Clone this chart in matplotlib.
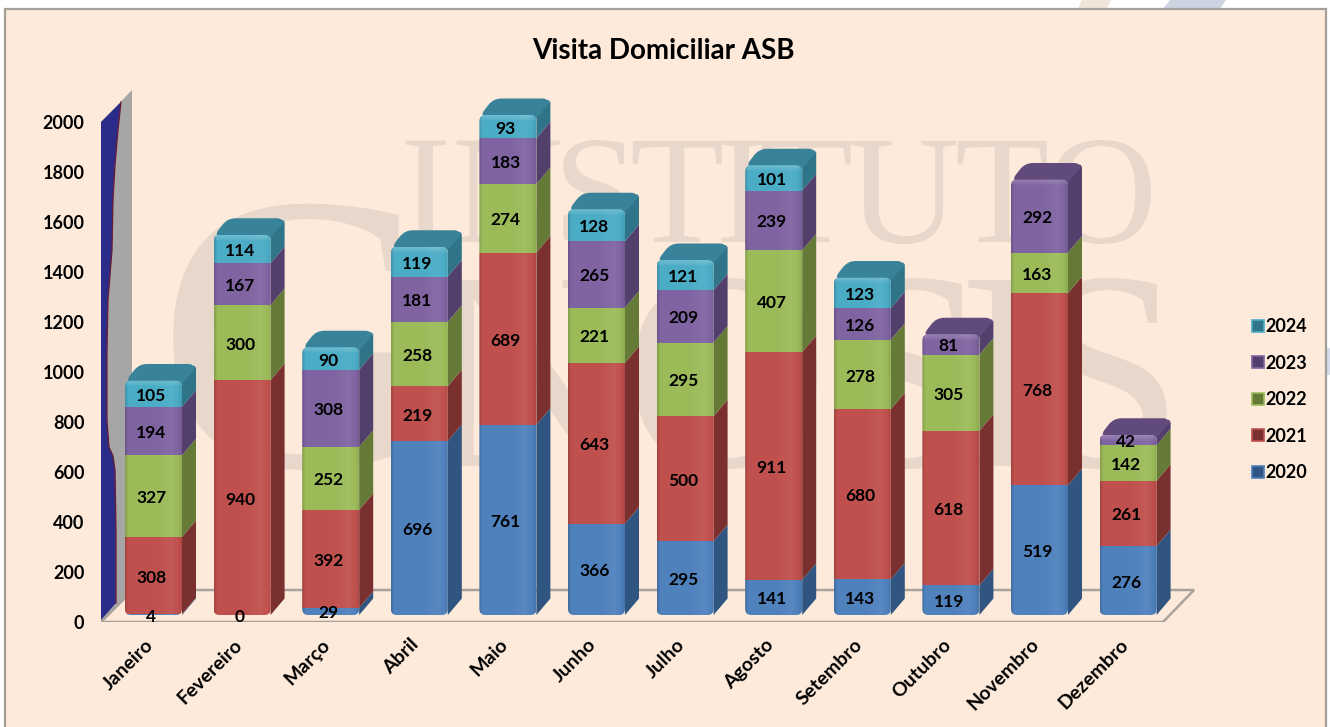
import numpy as np
import matplotlib
matplotlib.use("Agg")
import matplotlib.pyplot as plt
from matplotlib.patches import Polygon, Rectangle, PathPatch, Patch
from matplotlib.path import Path
from matplotlib.transforms import Affine2D, ScaledTranslation

plt.rcParams['font.family'] = ['Lato', 'DejaVu Sans']

months = ["Janeiro", "Fevereiro", "Março", "Abril", "Maio", "Junho", "Julho",
          "Agosto", "Setembro", "Outubro", "Novembro", "Dezembro"]
years = ["2020", "2021", "2022", "2023", "2024"]
values_2020 = [4, 0, 29, 696, 761, 366, 295, 141, 143, 119, 519, 276]
values_2021 = [308, 940, 392, 219, 689, 643, 500, 911, 680, 618, 768, 261]
values_2022 = [327, 300, 252, 258, 274, 221, 295, 407, 278, 305, 163, 142]
values_2023 = [194, 167, 308, 181, 183, 265, 209, 239, 126, 81, 292, 42]
values_2024 = [105, 114, 90, 119, 93, 128, 121, 101, 123, np.nan, np.nan, np.nan]
y_ticks = [0, 200, 400, 600, 800, 1000, 1200, 1400, 1600, 1800, 2000]

front_colors = ["#4F81BD", "#C0504D", "#9BBB59", "#8064A2", "#4BACC6"]
side_colors = ["#2F5580", "#7A302E", "#667A38", "#533F6B", "#2F7488"]
cap_colors = ["#3A6596", "#8C3A38", "#76913F", "#614A7C", "#38829A"]

W, H = 1330, 727
fig = plt.figure(figsize=(W / 100, H / 100), dpi=100, facecolor="white")
# pixel coordinates of the picture, y going down, for the decoration only
px = Affine2D().scale(1 / W, -1 / H).translate(0, 1) + fig.transFigure

# panel and the bits of slide showing round it
fig.add_artist(Polygon([(1082, 0), (1111, 0), (1106, 10), (1077, 10)], transform=px, fc="#EFE6D9", ec="none", zorder=-5))
fig.add_artist(Polygon([(1170, 0), (1226, 0), (1219, 10), (1162, 10)], transform=px, fc="#CDD3E0", ec="none", zorder=-5))
fig.add_artist(Rectangle((1326, 348), 4, 27, transform=px, fc="#D5DBE8", ec="none", zorder=-5))
fig.add_artist(Rectangle((5, 9), 1321, 730, transform=px, fc="#FDEADA", ec="#A39E98", lw=1.6, zorder=-4))

# watermark, letter by letter
wm_color = "#E8D8CB"
top_letters = list(zip("INSTITUTO", [425, 507, 596, 676, 741, 805, 903, 1001, 1101]))
low_letters = list(zip("NOSIS", [530, 725, 910, 1005, 1105]))
for ch, xp in top_letters:
    fig.text(xp, 242, ch, transform=px, family="Liberation Serif", fontsize=111, color=wm_color,
             ha="center", va="baseline", zorder=-3)
fig.text(300, 466, "G", transform=px, family="Liberation Serif", fontsize=285, color=wm_color,
         ha="center", va="baseline", zorder=-3)
for ch, xp in low_letters:
    fig.text(xp, 466, ch, transform=px, family="Liberation Serif", fontsize=205, color=wm_color,
             ha="center", va="baseline", zorder=-3)

fig.text(663, 51, "Visita Domiciliar ASB", transform=px, fontsize=20, fontweight="bold",
         ha="center", va="center", color="black")

# axes: 88.6 px per month, 0.25 px per visit
x_step, y_scale = 88.6, 0.25
ax_left, ax_right, ax_top, ax_bottom = 101, 1195, 90, 622
first_x, zero_y = 153.5, 615
ax = fig.add_axes([ax_left / W, 1 - ax_bottom / H, (ax_right - ax_left) / W, (ax_bottom - ax_top) / H])
ax.patch.set_visible(False)
xlim = ((ax_left - first_x) / x_step, (ax_right - first_x) / x_step)
ylim = ((zero_y - ax_bottom) / y_scale, (zero_y - ax_top) / y_scale)
for s in ax.spines.values():
    s.set_visible(False)

# back wall and floor
ax.add_patch(Polygon([(101, 622), (132, 590), (132, 90), (101, 122)], transform=px, fc="#A6A6A6", ec="none", zorder=0.5))
blue_edge = [(121, 102), (118, 130), (115, 165), (113, 200), (112, 250), (108, 300), (107, 350),
             (107, 420), (109, 447), (113, 456), (115, 470), (116, 530), (116, 603)]
ax.add_patch(Polygon([(101, 620), (101, 122)] + blue_edge, transform=px, fc="#2B2C8A", ec="none", zorder=0.6))
ax.plot(*zip(*blue_edge), transform=px, color="#6B1B33", lw=0.9, zorder=0.7)
ax.add_patch(Polygon([(101, 622), (133, 590), (1194, 590), (1163, 622)], transform=px, fc="none", ec="#A8A39D", lw=1.8, zorder=0.8))

bar_w = 57 / x_step
dx, dy = 14 / x_step, 16.5 / y_scale
xs = np.arange(len(months))
series = [values_2020, values_2021, values_2022, values_2023, values_2024]


def rounded(pts, r):
    """Closed path through pts (data units) with corners rounded by r pixels."""
    p = np.array(pts, float) * [x_step, y_scale]
    verts, codes = [], []
    n = len(p)
    for i in range(n):
        prev, cur, nxt = p[i - 1], p[i], p[(i + 1) % n]
        a = cur + (prev - cur) / np.linalg.norm(prev - cur) * r
        b = cur + (nxt - cur) / np.linalg.norm(nxt - cur) * r
        verts += [a, cur, b]
        codes += [Path.LINETO if i else Path.MOVETO, Path.CURVE3, Path.CURVE3]
    verts.append(verts[0])
    codes.append(Path.CLOSEPOLY)
    return Path(np.array(verts) / [x_step, y_scale], codes)


# horizontal shading of the front faces
shade = np.zeros((1, 57, 4))
u = np.arange(57)
dark = np.interp(u, [0, 3, 52, 56], [0.14, 0, 0, 0.08])
light = np.interp(u, [30, 46, 52], [0, 0.06, 0])
shade[0, :, :3] = 1.0
shade[0, :, 3] = light
edge = np.zeros((1, 57, 4))
edge[0, :, 3] = dark

for i in xs:
    xl, xr = i - bar_w / 2, i + bar_w / 2
    vals = np.nan_to_num([s[i] for s in series])
    tops = np.cumsum(vals)
    bots = tops - vals
    total = tops[-1]
    top_idx = np.nonzero(vals)[0][-1]

    # sides and top of the block
    for k in range(5):
        if vals[k] == 0:
            continue
        t = tops[k] + dy - (12 if k == top_idx else 0)
        ax.add_patch(Polygon([(xr, bots[k]), (xr + dx, bots[k] + dy), (xr + dx, t), (xr, tops[k])],
                             fc=side_colors[k], ec="none", zorder=2))
    cap = rounded([(xl, total - 6), (xr, total - 6), (xr + dx, total + dy), (xl + dx, total + dy)], 8)
    ax.add_patch(PathPatch(cap, fc=cap_colors[top_idx], ec="none", zorder=2.1))
    ax.plot([xr - 0.02, xr + dx - 0.03], [total - 8, total + dy - 14], color=cap_colors[top_idx], lw=3,
            solid_capstyle="round", zorder=2.2)

    # front face, clipped to a rounded outline
    outline = PathPatch(rounded([(xl, 0), (xr, 0), (xr, total), (xl, total)], 6), transform=ax.transData)
    for k in range(5):
        if vals[k] == 0:
            continue
        bar = ax.bar(i, vals[k], bar_w, bottom=bots[k], color=front_colors[k], zorder=3)[0]
        bar.set_clip_path(outline)
    for layer, z in ((shade, 3.1), (edge, 3.15)):
        im = ax.imshow(layer, extent=(xl, xr, 0, total), aspect="auto", interpolation="bilinear", zorder=z)
        im.set_clip_path(outline)
    band = np.ones((8, 1, 4))
    band[:, 0, 3] = np.linspace(0.2, 0, 8)
    im2 = ax.imshow(band, extent=(xl, xr, total - 28, total), aspect="auto", interpolation="bilinear", zorder=3.2)
    im2.set_clip_path(outline)

    # value labels
    for k in range(5):
        if np.isnan(series[k][i]):
            continue
        ax.annotate(f"{series[k][i]:.0f}", (i, bots[k] + vals[k] / 2), xytext=(-1.5, -1.5), textcoords="offset points",
                    ha="center", va="center", fontsize=12.5, fontweight="bold", color="black", zorder=5)

ax.set_xlim(xlim)
ax.set_ylim(ylim)
ax.set_xticks(xs)
ax.set_xticklabels(months, rotation=45, ha="right", rotation_mode="anchor", fontsize=14, fontweight="bold")
ax.set_yticks(y_ticks)
ax.set_yticklabels([str(v) for v in y_ticks], fontsize=13, fontweight="bold")
ax.tick_params(axis="x", length=0, pad=10)
ax.tick_params(axis="y", length=0, pad=12)
shift_y = ScaledTranslation(0, -7 / 100, fig.dpi_scale_trans)
for lab in ax.get_yticklabels():
    lab.set_transform(lab.get_transform() + shift_y)
shift_x = ScaledTranslation(-9 / 100, 0, fig.dpi_scale_trans)
for lab in ax.get_xticklabels():
    lab.set_transform(lab.get_transform() + shift_x)

handles = [Patch(fc=side_colors[k], ec=front_colors[k], lw=1.2, label=years[k]) for k in range(4, -1, -1)]
ax.legend(handles=handles, loc="upper left", bbox_to_anchor=(1245, 311), bbox_transform=px, frameon=False,
          handlelength=0.65, handleheight=0.65, handletextpad=0.1, labelspacing=1.08,
          prop={"size": 13, "weight": "bold"}, borderpad=0.4, borderaxespad=0)

fig.savefig("out.png", dpi=100, facecolor="white")
